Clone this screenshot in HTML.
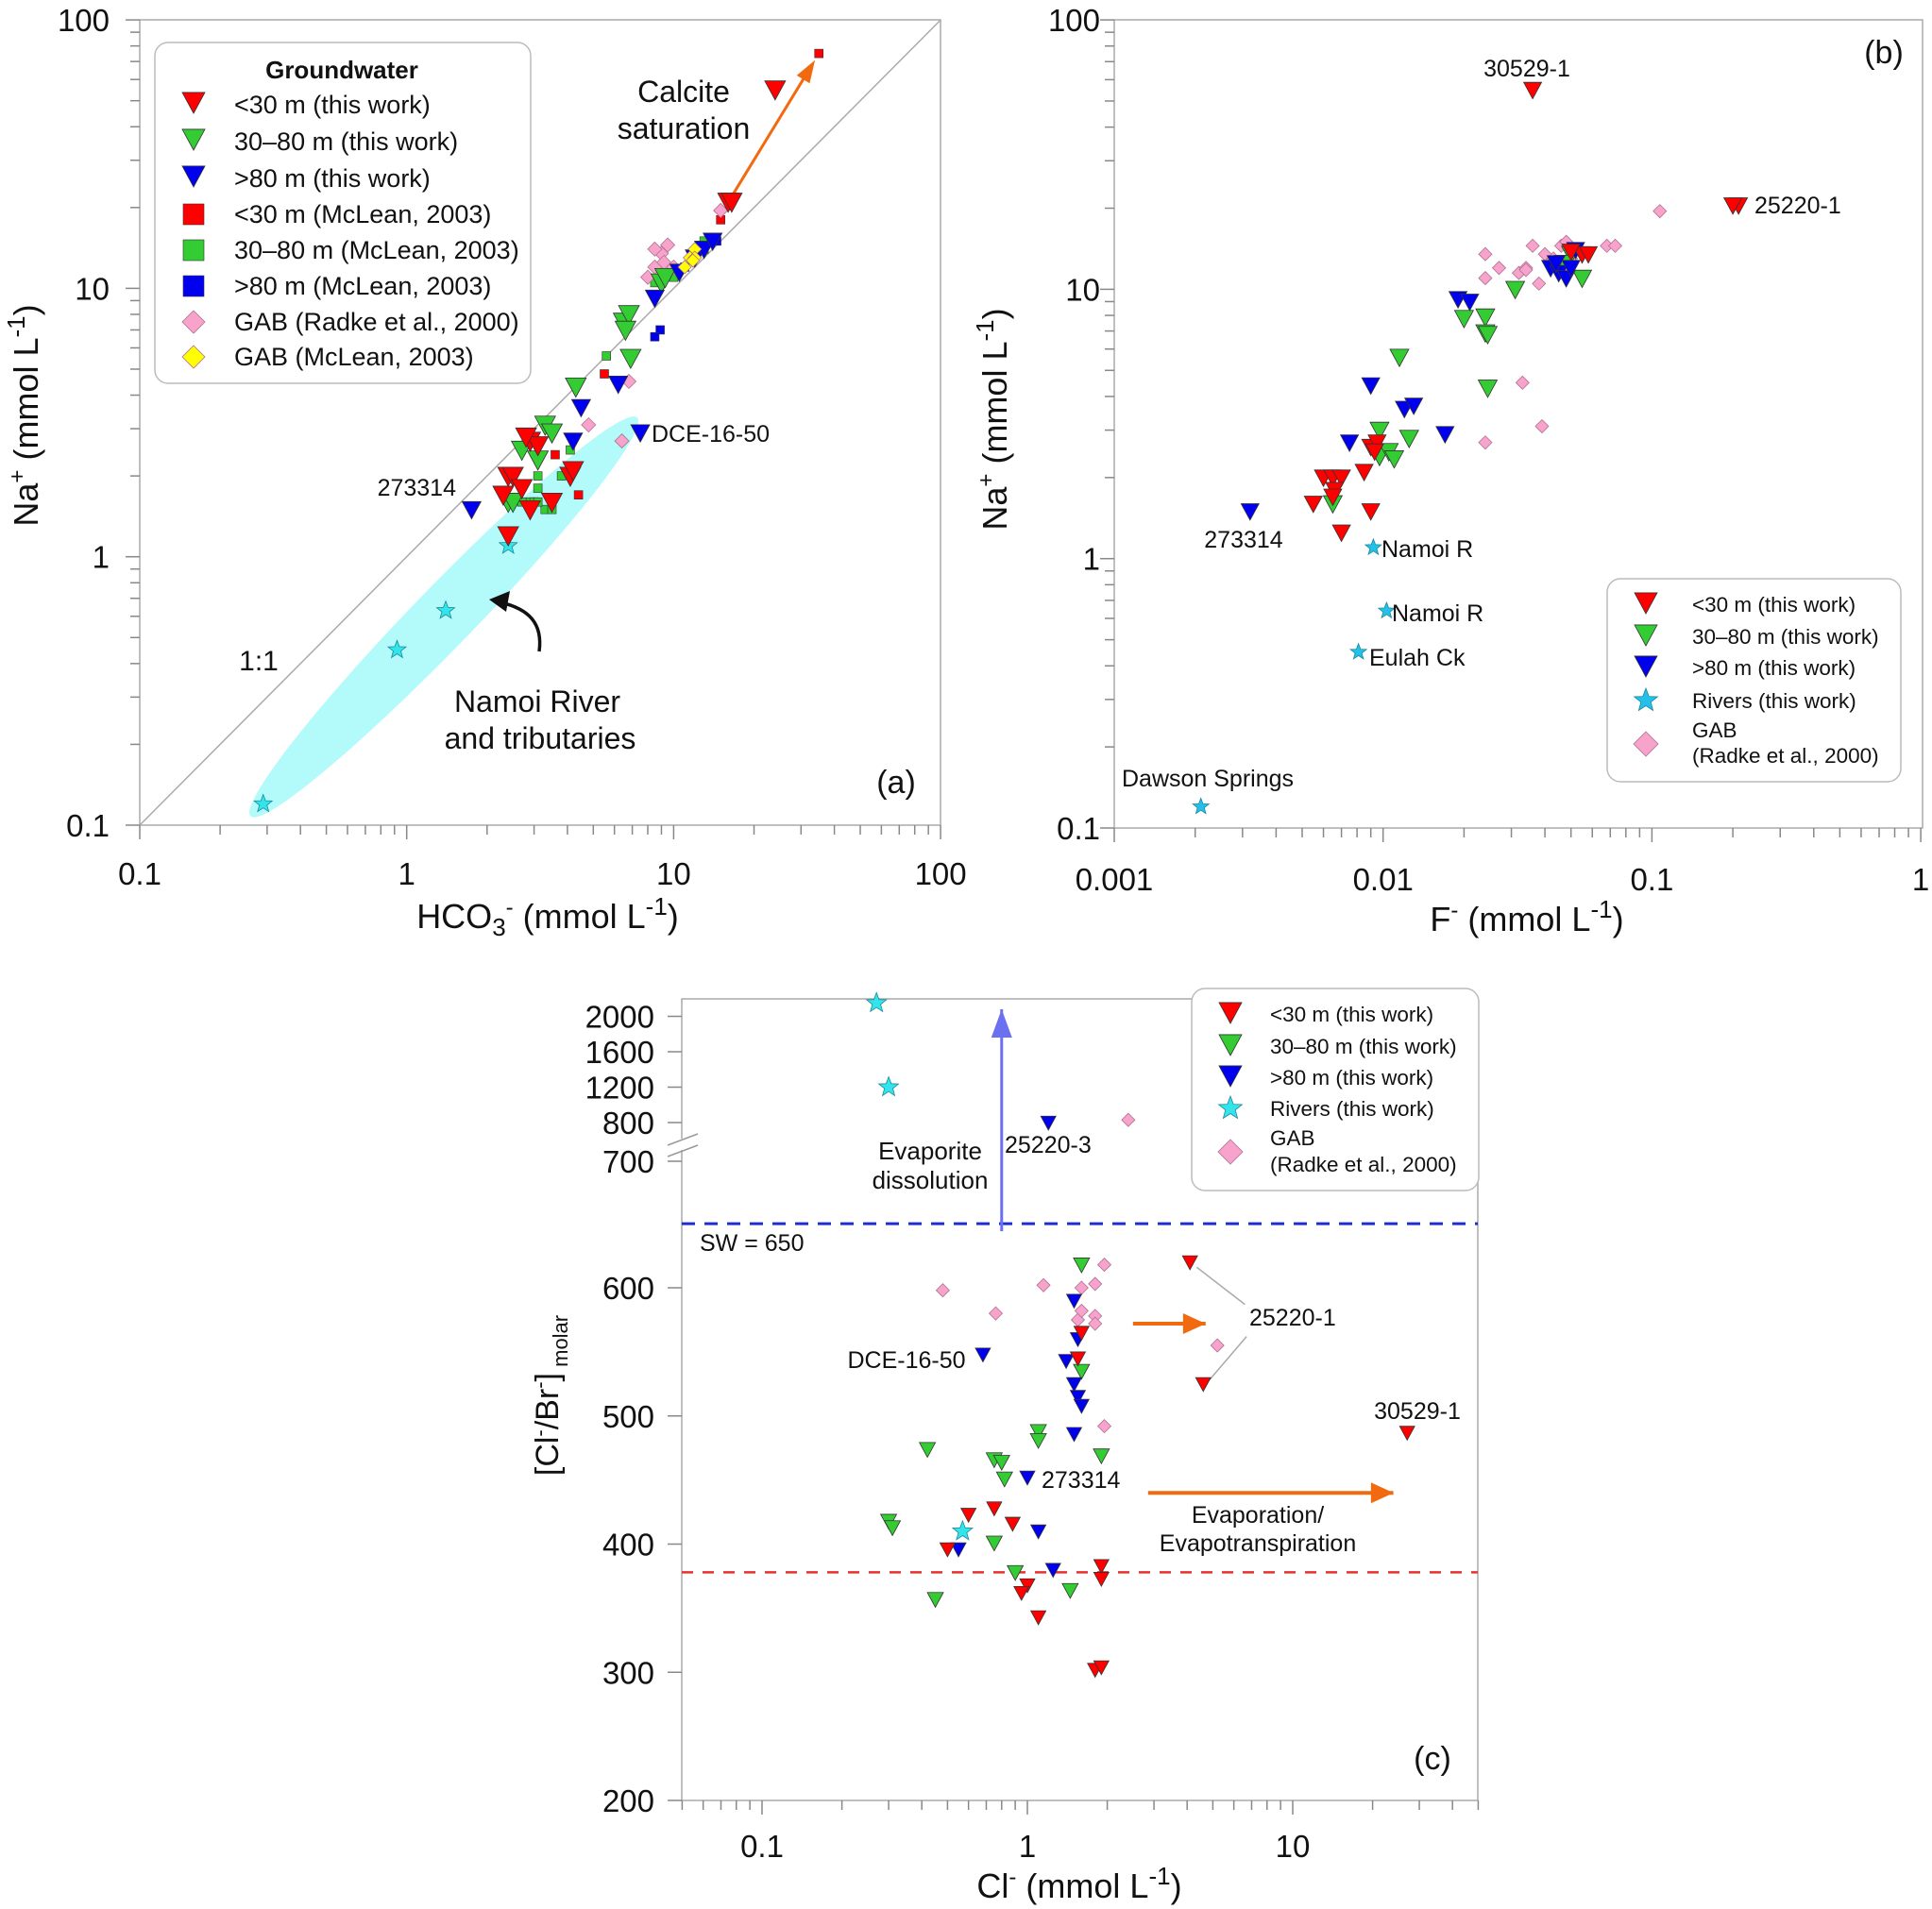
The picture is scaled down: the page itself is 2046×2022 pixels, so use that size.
<!DOCTYPE html>
<html><head><meta charset="utf-8"><style>
html,body{margin:0;padding:0;background:#fff}
svg{display:block;font-family:"Liberation Sans",Arial,sans-serif}
</style></head><body>
<svg id="fig" width="2046" height="2022" viewBox="0 0 2046 2022" xmlns="http://www.w3.org/2000/svg">
<rect width="2046" height="2022" fill="#fff"/>
<g id="gA"></g>
<g id="gB"></g>
<g id="gC"></g>
<g id="txt" fill="#111">
<text x="580" y="983" font-size="36" text-anchor="middle">HCO<tspan font-size="26" dy="8">3</tspan><tspan font-size="24" dy="-22">-</tspan><tspan dy="14"> (mmol L</tspan><tspan font-size="26" dy="-14">-1</tspan><tspan dy="14">)</tspan></text>
<text transform="translate(40,440) rotate(-90)" font-size="36" text-anchor="middle">Na<tspan font-size="24" dy="-14">+</tspan><tspan dy="14"> (mmol L</tspan><tspan font-size="26" dy="-14">-1</tspan><tspan dy="14">)</tspan></text>
<text x="724" y="108" font-size="32" text-anchor="middle">Calcite</text>
<text x="724" y="147" font-size="32" text-anchor="middle">saturation</text>
<text x="690" y="468" font-size="25">DCE-16-50</text>
<text x="483" y="525" font-size="25" text-anchor="end">273314</text>
<text x="274" y="710" font-size="30" text-anchor="middle">1:1</text>
<text x="569" y="754" font-size="32" text-anchor="middle">Namoi River</text>
<text x="572" y="793" font-size="32" text-anchor="middle">and tributaries</text>
<text x="949" y="840" font-size="34" text-anchor="middle">(a)</text>
<path d="M571,690 C 575,660 560,645 530,638" fill="none" stroke="#111" stroke-width="3.5"/>
<polygon points="518,635 540,626 536,648" fill="#111"/>
<text x="1617" y="986" font-size="36" text-anchor="middle">F<tspan font-size="24" dy="-14">-</tspan><tspan dy="14"> (mmol L</tspan><tspan font-size="26" dy="-14">-1</tspan><tspan dy="14">)</tspan></text>
<text transform="translate(1066,444) rotate(-90)" font-size="36" text-anchor="middle">Na<tspan font-size="24" dy="-14">+</tspan><tspan dy="14"> (mmol L</tspan><tspan font-size="26" dy="-14">-1</tspan><tspan dy="14">)</tspan></text>
<text x="1995" y="67" font-size="34" text-anchor="middle">(b)</text>
<text x="1617" y="81" font-size="25" text-anchor="middle">30529-1</text>
<text x="1858" y="226" font-size="25">25220-1</text>
<text x="1317" y="580" font-size="25" text-anchor="middle">273314</text>
<text x="1463" y="590" font-size="25">Namoi R</text>
<text x="1474" y="658" font-size="25">Namoi R</text>
<text x="1450" y="705" font-size="25">Eulah Ck</text>
<text x="1279" y="833" font-size="25" text-anchor="middle">Dawson Springs</text>
<text x="1143" y="2010" font-size="36" text-anchor="middle">Cl<tspan font-size="24" dy="-14">-</tspan><tspan dy="14"> (mmol L</tspan><tspan font-size="26" dy="-14">-1</tspan><tspan dy="14">)</tspan></text>
<text transform="translate(591,1478) rotate(-90)" font-size="34" text-anchor="middle">[Cl<tspan font-size="22" dy="-12">-</tspan><tspan dy="12">/Br</tspan><tspan font-size="22" dy="-12">-</tspan><tspan dy="12">]</tspan><tspan font-size="22" dy="10"> molar</tspan></text>
<text x="741" y="1325" font-size="25">SW = 650</text>
<text x="985" y="1228" font-size="26" text-anchor="middle">Evaporite</text>
<text x="985" y="1259" font-size="26" text-anchor="middle">dissolution</text>
<text x="1064" y="1221" font-size="25">25220-3</text>
<text x="1323" y="1404" font-size="25">25220-1</text>
<text x="960" y="1449" font-size="25" text-anchor="middle">DCE-16-50</text>
<text x="1501" y="1503" font-size="25" text-anchor="middle">30529-1</text>
<text x="1103" y="1576" font-size="25">273314</text>
<text x="1332" y="1613" font-size="25" text-anchor="middle">Evaporation/</text>
<text x="1332" y="1643" font-size="25" text-anchor="middle">Evapotranspiration</text>
<text x="1517" y="1874" font-size="34" text-anchor="middle">(c)</text>
</g>
</svg>
<script>
const aRedTriX=[24,16,16.5,2.4,2.5,2.3,2.7,2.4,2.9,3.5,4.1,4.2,2.9,3.1,2.8];
const aRedTriY=[55,21,21,2.0,2.0,1.7,1.8,1.2,1.5,1.6,2.0,2.1,2.7,2.6,2.8];
const aGrnTriX=[2.4,2.7,3.1,3.3,3.5,4.3,6.5,6.8,6.6,6.9,9,9.3,2.5];
const aGrnTriY=[1.6,2.5,2.3,3.1,2.9,4.3,7.5,8,7,5.5,10.5,11,1.6];
const aBluTriX=[1.75,7.5,4.5,4.2,6.2,8.5,10.5,12,13,14];
const aBluTriY=[1.5,2.9,3.6,2.7,4.4,9.2,11.5,13,14,15];
const aRedSqX=[35,15,5.5,3.6,4.4,13,2.9];
const aRedSqY=[75,18,4.8,2.4,1.7,14,2.8];
const aGrnSqX=[2.9,3.1,3.1,3.3,3.5,4.1,3.8,3.0,2.7,5.6,8.5,13,10,3.1];
const aGrnSqY=[1.6,2.0,1.8,1.5,1.5,2.5,2.0,1.6,1.6,5.6,10.5,15,11,1.6];
const aBluSqX=[8.9,8.5,14.5,11,12];
const aBluSqY=[7,6.6,15,12,13.5];
const aPinkX=[15,8,8.5,9.5,9,8.5,9.2,10,4.8,6.4,6.8];
const aPinkY=[19.5,11,12,14.5,13.5,14,12.5,12,3.1,2.7,4.5];
const aYelX=[11,11.5,12,12,11.8];
const aYelY=[12,13,14,13,12.7];
const aStarX=[0.29,0.92,1.4,2.4];
const aStarY=[0.12,0.45,0.63,1.1];
const aTickLabels=["0.1","1","10","100"];
const aTickVals=[0.1,1,10,100];
const bRedX=[0.036,0.21,0.2,0.055,0.058,0.05,0.009,0.0095,0.0093,0.006,0.0065,0.007,0.0066,0.0065,0.0055,0.0085,0.009,0.007];
const bRedY=[55,20.5,20.5,13.5,13.5,13.8,2.6,2.7,2.5,2.0,2.0,2.0,1.8,1.7,1.6,2.1,1.5,1.25];
const bGrnX=[0.0065,0.0097,0.0097,0.0105,0.011,0.0125,0.0115,0.02,0.024,0.024,0.0245,0.0245,0.031,0.05,0.055,0.047];
const bGrnY=[1.6,3.0,2.4,2.5,2.35,2.8,5.6,7.8,7.9,6.9,6.8,4.3,10,13.5,11,12.5];
const bBluX=[0.0032,0.0075,0.009,0.012,0.013,0.017,0.019,0.021,0.042,0.045,0.048,0.052,0.05,0.044];
const bBluY=[1.5,2.7,4.4,3.6,3.7,2.9,9.2,9,12,11.5,11,14,12,12.5];
const bStarX=[0.0092,0.0103,0.0081,0.0021];
const bStarY=[1.1,0.64,0.45,0.12];
const bPinkX=[0.024,0.024,0.027,0.032,0.034,0.036,0.038,0.04,0.043,0.046,0.048,0.05,0.033,0.039,0.024,0.068,0.073,0.107,0.034];
const bPinkY=[13.5,11,12,11.5,12,14.5,10.5,13.5,13,14.5,15,13,4.5,3.1,2.7,14.5,14.5,19.5,11.8];
const bXTickLabels=["0.001","0.01","0.1","1"];
const bXTickVals=[0.001,0.01,0.1,1];
const bYTickLabels=["0.1","1","10","100"];
const bYTickVals=[0.1,1,10,100];
const cRedX=[4.1,4.6,27,1.6,1.55,0.6,0.75,0.88,0.5,1.0,0.95,1.1,1.9,1.9,1.8,1.9];
const cRedY=[620,525,487,565,545,423,428,416,396,368,362,343,383,373,302,304];
const cGrnX=[1.6,1.6,1.1,1.1,1.9,0.42,0.75,0.8,0.82,0.3,0.31,0.75,0.9,0.45,1.45];
const cGrnY=[618,535,488,481,469,474,466,464,451,418,413,401,378,357,364];
const cBluX=[1.5,1.55,1.4,1.5,1.55,1.6,1.5,0.68,1.0,1.1,1.25,0.55,1.2];
const cBluY=[590,560,543,525,515,508,486,548,452,410,380,396,800];
const cStarX=[0.27,0.3,0.57];
const cStarY=[2150,1200,410];
const cPinkX=[0.48,0.76,1.15,1.6,1.8,1.95,1.55,1.6,1.8,1.8,5.2,1.95,2.4];
const cPinkY=[598,580,602,600,603,618,575,582,578,572,555,492,830];
const cXTickLabels=["0.1","1","10"];
const cXTickVals=[0.1,1,10];
const cYTickLabels=["200","300","400","500","600","700","800","1200","1600","2000"];
const cYTickVals=[200,300,400,500,600,700,800,1200,1600,2000];
const cSeawater=[650];
const cMarine=[378];

const NS="http://www.w3.org/2000/svg";
function mk(parent,tag,attrs,name){
  const el=document.createElementNS(NS,tag);
  for(const k in attrs) el.setAttribute(k,attrs[k]);
  
  
  parent.appendChild(el);
  return el;
}
const L=Math.log10;
const xA=v=>148+282.7*(L(v)+1), yA=v=>874-284.3*(L(v)+1);
const xB=v=>1180+284.7*(L(v)+3), yB=v=>877-285.3*(L(v)+1);
const xC=v=>1088+281*L(v);
const yC=v=> v<=660 ? 1907-(v-200)*1.3575 : (v<=800 ? 1189+(800-v)*0.41 : 1189-(v-800)*0.09375);

function tri(g,x,y,s,fill,name){
  return mk(g,'polygon',{points:`${x-s/2},${y-s*0.42} ${x+s/2},${y-s*0.42} ${x},${y+s*0.5}`,fill:fill,stroke:'#333','stroke-width':0.8},name);
}
function sq(g,x,y,s,fill,name){
  return mk(g,'rect',{x:x-s/2,y:y-s/2,width:s,height:s,fill:fill,stroke:'#333','stroke-width':0.6},name);
}
function dia(g,x,y,s,fill,name){
  return mk(g,'polygon',{points:`${x},${y-s/2} ${x+s/2},${y} ${x},${y+s/2} ${x-s/2},${y}`,fill:fill,stroke:'#b07090','stroke-width':0.8},name);
}
function star(g,x,y,r,fill,name){
  let p=[];
  for(let i=0;i<10;i++){const rr=i%2?r*0.42:r;const a=-Math.PI/2+i*Math.PI/5;p.push((x+rr*Math.cos(a)).toFixed(1)+','+(y+rr*Math.sin(a)).toFixed(1));}
  return mk(g,'polygon',{points:p.join(' '),fill:fill,stroke:'#1a8a9a','stroke-width':0.8},name);
}
function logTicks(g,lo,hi,pos,axis,other,name){
  for(let d=Math.floor(L(lo));d<=Math.ceil(L(hi));d++){
    for(let m=1;m<10;m++){
      const v=m*Math.pow(10,d); if(v<lo*0.999||v>hi*1.001) continue;
      const p=pos(v), len=m===1?15:10;
      if(axis==='x') mk(g,'line',{x1:p,x2:p,y1:other,y2:other+len,stroke:'#888','stroke-width':1.5},name);
      else mk(g,'line',{x1:other,x2:other-len,y1:p,y2:p,stroke:'#888','stroke-width':1.5},name);
    }
  }
}
function label(g,x,y,t,anchor,size,name){
  const el=mk(g,'text',{x:x,y:y,'font-size':size,'text-anchor':anchor,fill:'#111'},name);
  el.textContent=t; return el;
}
const RED='#ff0000',GRN='#33cc33',BLU='#0000ee',PINK='#f7a3cc',YEL='#ffff00',CYA='#33e5ea',SKY='#22c0ea';

const gA=document.getElementById('gA');
mk(gA,'rect',{x:148,y:21,width:848,height:853,fill:'none',stroke:'#aaa','stroke-width':1.5},'plot-frame-a');
logTicks(gA,0.1,100,xA,'x',874,'x-tick-a');
logTicks(gA,0.1,100,yA,'y',148,'y-tick-a');
aTickVals.forEach((v,i)=>{label(gA,xA(v),937,aTickLabels[i],'middle',33,'x-tick-label-a');label(gA,116,yA(v)+12,aTickLabels[i],'end',33,'y-tick-label-a');});
{const x1=xA(0.26),y1=yA(0.108),x2=xA(7.3),y2=yA(3.3);
 const cx=(x1+x2)/2,cy=(y1+y2)/2,len=Math.hypot(x2-x1,y2-y1)/2,ang=Math.atan2(y2-y1,x2-x1)*180/Math.PI;
 mk(gA,'ellipse',{cx:cx,cy:cy,rx:len,ry:32,transform:`rotate(${ang} ${cx} ${cy})`,fill:'#b3fafa'},'namoi-ellipse');}
mk(gA,'line',{x1:xA(0.1),y1:yA(0.1),x2:xA(100),y2:yA(100),stroke:'#aaa','stroke-width':1.5},'one-to-one-line');
{const x1=xA(16.5),y1=yA(22),x2=xA(33),y2=yA(68);
 mk(gA,'line',{x1:x1,y1:y1,x2:x2,y2:y2,stroke:'#f26a10','stroke-width':3},'calcite-arrow');
 const a=Math.atan2(y2-y1,x2-x1),h=18;
 mk(gA,'polygon',{points:`${x2+6*Math.cos(a)},${y2+6*Math.sin(a)} ${x2-h*Math.cos(a)+8*Math.sin(a)},${y2-h*Math.sin(a)-8*Math.cos(a)} ${x2-h*Math.cos(a)-8*Math.sin(a)},${y2-h*Math.sin(a)+8*Math.cos(a)}`,fill:'#f26a10'},'calcite-arrow-head');}
aStarX.forEach((v,i)=>star(gA,xA(v),yA(aStarY[i]),10,CYA,'river-star-a'));
aRedSqX.forEach((v,i)=>sq(gA,xA(v),yA(aRedSqY[i]),9,RED,'red-square-a'));
aGrnSqX.forEach((v,i)=>sq(gA,xA(v),yA(aGrnSqY[i]),9,GRN,'green-square-a'));
aBluSqX.forEach((v,i)=>sq(gA,xA(v),yA(aBluSqY[i]),9,BLU,'blue-square-a'));
aPinkX.forEach((v,i)=>dia(gA,xA(v),yA(aPinkY[i]),15,PINK,'gab-diamond-a'));
aGrnTriX.forEach((v,i)=>tri(gA,xA(v),yA(aGrnTriY[i]),22,GRN,'green-triangle-a'));
aBluTriX.forEach((v,i)=>tri(gA,xA(v),yA(aBluTriY[i]),20,BLU,'blue-triangle-a'));
aRedTriX.forEach((v,i)=>tri(gA,xA(v),yA(aRedTriY[i]),22,RED,'red-triangle-a'));
aYelX.forEach((v,i)=>dia(gA,xA(v),yA(aYelY[i]),14,YEL,'yellow-diamond-a'));
{const lg=mk(gA,'g',{},'legend-a');
 mk(lg,'rect',{x:164,y:45,width:398,height:361,rx:14,fill:'#fff',stroke:'#bbb','stroke-width':1.5},'legend-box-a');
 const t=label(lg,362,83,'Groundwater','middle',26,'legend-title-a'); t.setAttribute('font-weight','bold');
 const rows=[['<30 m (this work)','tri',RED],['30\u201380 m (this work)','tri',GRN],['>80 m (this work)','tri',BLU],['<30 m (McLean, 2003)','sq',RED],['30\u201380 m (McLean, 2003)','sq',GRN],['>80 m (McLean, 2003)','sq',BLU],['GAB (Radke et al., 2000)','dia',PINK],['GAB (McLean, 2003)','dia',YEL]];
 const ys=[111,150,189,227,265,303,341,378];
 rows.forEach((r,i)=>{const y=ys[i];
  if(r[1]==='tri') tri(lg,205,y-3,24,r[2],'legend-symbol-a');
  else if(r[1]==='sq') sq(lg,205,y,22,r[2],'legend-symbol-a');
  else dia(lg,205,y,24,r[2],'legend-symbol-a');
  label(lg,248,y+9,r[0],'start',27,'legend-label-a');});}

const gB=document.getElementById('gB');
mk(gB,'rect',{x:1180,y:21,width:856,height:856,fill:'none',stroke:'#aaa','stroke-width':1.5},'plot-frame-b');
logTicks(gB,0.001,1,xB,'x',877,'x-tick-b');
logTicks(gB,0.1,100,yB,'y',1180,'y-tick-b');
bXTickVals.forEach((v,i)=>label(gB,xB(v),943,bXTickLabels[i],'middle',33,'x-tick-label-b'));
bYTickVals.forEach((v,i)=>label(gB,1165,yB(v)+12,bYTickLabels[i],'end',33,'y-tick-label-b'));
bPinkX.forEach((v,i)=>dia(gB,xB(v),yB(bPinkY[i]),14,PINK,'gab-diamond-b'));
bGrnX.forEach((v,i)=>tri(gB,xB(v),yB(bGrnY[i]),20,GRN,'green-triangle-b'));
bBluX.forEach((v,i)=>tri(gB,xB(v),yB(bBluY[i]),19,BLU,'blue-triangle-b'));
bRedX.forEach((v,i)=>tri(gB,xB(v),yB(bRedY[i]),19,RED,'red-triangle-b'));
bStarX.forEach((v,i)=>star(gB,xB(v),yB(bStarY[i]),9,SKY,'river-star-b'));
{const lg=mk(gB,'g',{},'legend-b');
 mk(lg,'rect',{x:1702,y:613,width:311,height:215,rx:14,fill:'#fff',stroke:'#bbb','stroke-width':1.5},'legend-box-b');
 const rows=[['<30 m (this work)','tri',RED,640],['30\u201380 m (this work)','tri',GRN,674],['>80 m (this work)','tri',BLU,707],['Rivers (this work)','star',SKY,742]];
 rows.forEach(r=>{ if(r[1]==='tri') tri(lg,1743,r[3]-2,24,r[2],'legend-symbol-b'); else star(lg,1743,r[3],13,r[2],'legend-symbol-b');
  label(lg,1792,r[3]+8,r[0],'start',22.5,'legend-label-b');});
 dia(lg,1743,788,26,PINK,'legend-symbol-b');
 label(lg,1792,781,'GAB','start',22.5,'legend-label-b');
 label(lg,1792,808,'(Radke et al., 2000)','start',22.5,'legend-label-b');}

const gC=document.getElementById('gC');
mk(gC,'rect',{x:722,y:1058,width:843,height:849,fill:'none',stroke:'#aaa','stroke-width':1.5},'plot-frame-c');
logTicks(gC,0.05,50,xC,'x',1907,'x-tick-c');
cXTickVals.forEach((v,i)=>label(gC,xC(v),1967,cXTickLabels[i],'middle',33,'x-tick-label-c'));
cYTickVals.forEach((v,i)=>{const y=yC(v);mk(gC,'line',{x1:722,x2:707,y1:y,y2:y,stroke:'#888','stroke-width':1.5},'y-tick-c');label(gC,693,y+12,cYTickLabels[i],'end',33,'y-tick-label-c');});
mk(gC,'rect',{x:712,y:1206,width:20,height:12,fill:'#fff'},'axis-break-gap');
mk(gC,'line',{x1:707,y1:1213,x2:739,y2:1201,stroke:'#999','stroke-width':1.5},'axis-break-mark');
mk(gC,'line',{x1:707,y1:1225,x2:739,y2:1213,stroke:'#999','stroke-width':1.5},'axis-break-mark');
mk(gC,'line',{x1:722,x2:1565,y1:yC(cSeawater[0]),y2:yC(cSeawater[0]),stroke:'#1a2fd0','stroke-width':3,'stroke-dasharray':'14,10'},'seawater-line');
mk(gC,'line',{x1:722,x2:1565,y1:yC(cMarine[0]),y2:yC(cMarine[0]),stroke:'#e83030','stroke-width':2.5,'stroke-dasharray':'12,10'},'marine-rain-line');
function arrow(g,x1,y1,x2,y2,col,w,h,hw,name){
  mk(g,'line',{x1:x1,y1:y1,x2:x2-(x2-x1)*0.001,y2:y2,stroke:col,'stroke-width':w},name);
  const a=Math.atan2(y2-y1,x2-x1);
  const bx=x2-h*Math.cos(a),by=y2-h*Math.sin(a);
  mk(g,'polygon',{points:`${x2},${y2} ${bx+hw*Math.sin(a)},${by-hw*Math.cos(a)} ${bx-hw*Math.sin(a)},${by+hw*Math.cos(a)}`,fill:col},name+'-head');
}
{const y1=yC(cSeawater[0])+8;
 arrow(gC,xC(0.8),y1,xC(0.8),1069,'#6a70f0',3,30,11,'evaporite-arrow');}
arrow(gC,xC(2.5),yC(572),xC(4.7),yC(572),'#f26a10',4,24,11,'orange-arrow-upper');
arrow(gC,xC(2.85),yC(440),xC(24),yC(440),'#f26a10',4,24,11,'orange-arrow-lower');
mk(gC,'line',{x1:xC(4.35),y1:yC(616),x2:xC(6.6),y2:yC(587),stroke:'#aaa','stroke-width':1.5},'leader-line');
mk(gC,'line',{x1:xC(4.85),y1:yC(528),x2:xC(6.7),y2:yC(562),stroke:'#aaa','stroke-width':1.5},'leader-line');
cPinkX.forEach((v,i)=>dia(gC,xC(v),yC(cPinkY[i]),14,PINK,'gab-diamond-c'));
cGrnX.forEach((v,i)=>tri(gC,xC(v),yC(cGrnY[i]),17,GRN,'green-triangle-c'));
cBluX.forEach((v,i)=>tri(gC,xC(v),yC(cBluY[i]),16,BLU,'blue-triangle-c'));
cRedX.forEach((v,i)=>tri(gC,xC(v),yC(cRedY[i]),16,RED,'red-triangle-c'));
cStarX.forEach((v,i)=>star(gC,xC(v),yC(cStarY[i]),11,CYA,'river-star-c'));
{const lg=mk(gC,'g',{},'legend-c');
 mk(lg,'rect',{x:1262,y:1047,width:304,height:214,rx:14,fill:'#fff',stroke:'#bbb','stroke-width':1.5},'legend-box-c');
 const rows=[['<30 m (this work)','tri',RED,1074],['30\u201380 m (this work)','tri',GRN,1108],['>80 m (this work)','tri',BLU,1141],['Rivers (this work)','star',CYA,1174]];
 rows.forEach(r=>{ if(r[1]==='tri') tri(lg,1303,r[3]-2,24,r[2],'legend-symbol-c'); else star(lg,1303,r[3],13,r[2],'legend-symbol-c');
  label(lg,1345,r[3]+8,r[0],'start',22.5,'legend-label-c');});
 dia(lg,1303,1220,26,PINK,'legend-symbol-c');
 label(lg,1345,1213,'GAB','start',22.5,'legend-label-c');
 label(lg,1345,1241,'(Radke et al., 2000)','start',22.5,'legend-label-c');}
</script>
</body></html>
